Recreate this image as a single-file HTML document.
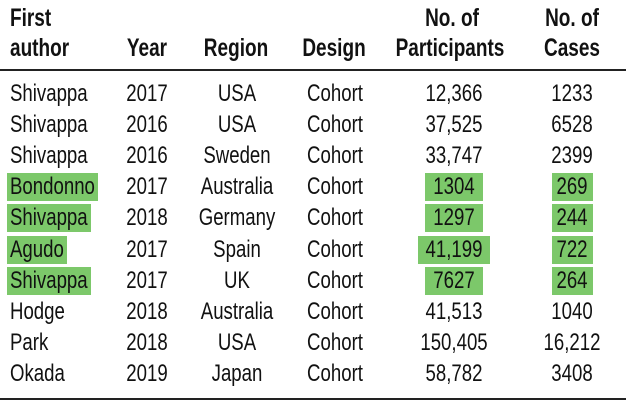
<!DOCTYPE html>
<html><head><meta charset="utf-8"><style>
html,body{margin:0;padding:0;background:#fff;}
#t{position:relative;width:626px;height:410px;overflow:hidden;font-family:"Liberation Sans",sans-serif;color:#111;}
.c{position:absolute;white-space:nowrap;font-size:24.5px;line-height:26px;transform:translate(-50%,-50%) scaleX(0.76);}
.l{position:absolute;white-space:nowrap;font-size:24.5px;line-height:26px;transform-origin:left center;transform:translateY(-50%) scaleX(0.76);}
.h{font-weight:bold;font-size:25px;}
.hl{position:absolute;background:#7cc86a;height:28px;}
.rule{position:absolute;left:0;width:626px;height:2px;background:#222;}
</style></head><body>
<div id="t">
<div class="rule" style="top:69px"></div>
<div class="rule" style="top:398px"></div>
</div>
<script>
const authors=["Shivappa","Shivappa","Shivappa","Bondonno","Shivappa","Agudo","Shivappa","Hodge","Park","Okada"];
const years=["2017","2016","2016","2017","2018","2017","2017","2018","2018","2019"];
const regions=["USA","USA","Sweden","Australia","Germany","Spain","UK","Australia","USA","Japan"];
const designs=["Cohort","Cohort","Cohort","Cohort","Cohort","Cohort","Cohort","Cohort","Cohort","Cohort"];
const participants=["12,366","37,525","33,747","1304","1297","41,199","7627","41,513","150,405","58,782"];
const cases=["1233","6528","2399","269","244","722","264","1040","16,212","3408"];
const highlighted=[false,false,false,true,true,true,true,false,false,false];
const t=document.getElementById('t');
function add(cls,text,x,y,name){
  const d=document.createElement('div');
  d.className=cls;d.textContent=text;d.style.left=x+'px';d.style.top=y+'px';
  
  
  t.appendChild(d);return d;
}
function box(x1,x2,y,name){
  const d=document.createElement('div');
  d.className='hl';d.style.left=x1+'px';d.style.width=(x2-x1)+'px';d.style.top=(y-14)+'px';
  
  
  t.insertBefore(d,t.firstChild);
}
add('l h','First',10,18,'header-first-author');
add('l h','author',10,48,'header-first-author');
add('c h','Year',147,48,'header-year');
add('c h','Region',236,48,'header-region');
add('c h','Design',334,48,'header-design');
add('c h','No. of',452,18,'header-participants');
add('c h','Participants',450,48,'header-participants');
add('c h','No. of',572,18,'header-cases');
add('c h','Cases',572,48,'header-cases');
const pitch=31.1;
authors.forEach((a,i)=>{
  const y=94+pitch*i;
  const ae=add('l',a,10,y,'author-cell');
  add('c',years[i],147,y,'year-cell');
  add('c',regions[i],237,y,'region-cell');
  add('c',designs[i],335,y,'design-cell');
  const pe=add('c',participants[i],454,y,'participants-cell');
  add('c',cases[i],572,y,'cases-cell');
  if(highlighted[i]){
    const ar=ae.getBoundingClientRect();
    box(7,ar.right+3,y,'highlight-author');
    const pr=pe.getBoundingClientRect();
    box(pr.left-8,pr.right+8,y,'highlight-participants');
    box(552,593,y,'highlight-cases');
  }
});
</script>
</body></html>
